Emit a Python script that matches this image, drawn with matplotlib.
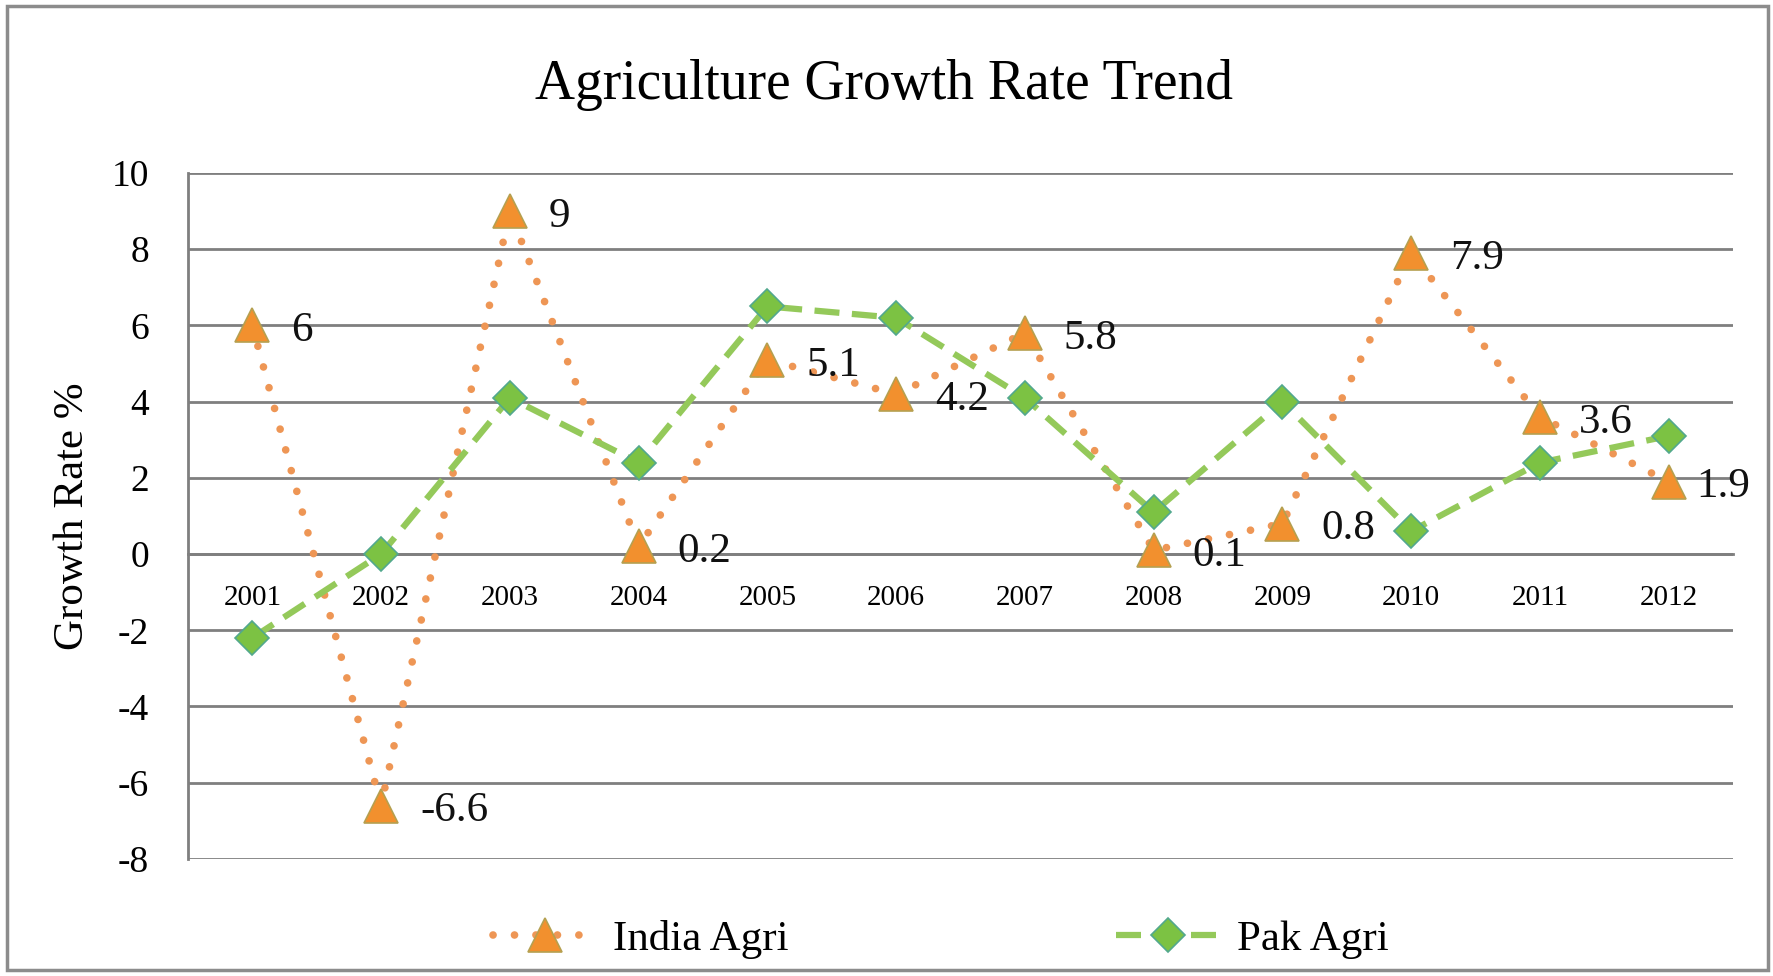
import matplotlib.pyplot as plt
from matplotlib.patches import Rectangle

years = ['2001', '2002', '2003', '2004', '2005', '2006',
         '2007', '2008', '2009', '2010', '2011', '2012']
india_agri = [6, -6.6, 9, 0.2, 5.1, 4.2, 5.8, 0.1, 0.8, 7.9, 3.6, 1.9]
pak_agri = [-2.2, 0.0, 4.1, 2.4, 6.5, 6.2, 4.1, 1.1, 4.0, 0.6, 2.4, 3.1]
y_ticks = [-8, -6, -4, -2, 0, 2, 4, 6, 8, 10]

plt.rcParams['font.family'] = ['Liberation Serif', 'DejaVu Serif']
plt.rcParams['axes.unicode_minus'] = False

fig = plt.figure(figsize=(17.73, 9.76), dpi=100)
ax = fig.add_axes([0.106, 0.12, 0.8715, 0.7027])

x = list(range(len(years)))

# India: dotted orange line with triangles
ax.plot(x, india_agri, linestyle=(0, (0.01, 2.8)), dash_capstyle='round',
        color='#EE9655', linewidth=5.5, marker='^', markersize=24,
        markerfacecolor='#F2902E', markeredgecolor='#B5A050',
        markeredgewidth=1.2, label='India Agri', zorder=3)

# Pakistan: dashed green line with diamonds
ax.plot(x, pak_agri, linestyle=(0, (4, 2)), color='#94C95A',
        linewidth=4.5, marker='D', markersize=17,
        markerfacecolor='#7CC243', markeredgecolor='#52A88E',
        markeredgewidth=1.2, label='Pak Agri', zorder=4)

# value labels to the right of each India point
for i, v in enumerate(india_agri):
    dx = 20 if i == len(years) - 1 else 28
    ax.annotate(f'{v:g}', (i, v), xytext=(dx, -4), textcoords='offset points',
                ha='left', va='center', fontsize=31, color='#111111', zorder=5)

ax.set_xlim(-0.5, len(years) - 0.5)
ax.set_ylim(-8, 10)
ax.set_yticks(y_ticks)
ax.set_xticks(x)
ax.set_xticklabels(years)
ax.grid(axis='y', color='#7F7F7F', linewidth=2)
ax.set_axisbelow(True)

for side in ['top', 'right']:
    ax.spines[side].set_visible(False)
ax.spines['left'].set_color('#7F7F7F')
ax.spines['left'].set_linewidth(2)
ax.spines['bottom'].set_position(('data', 0))
ax.spines['bottom'].set_color('#7F7F7F')
ax.spines['bottom'].set_linewidth(2)

ax.tick_params(axis='y', length=0, pad=28, labelsize=27)
ax.tick_params(axis='x', length=0, pad=22, labelsize=21)

ax.set_ylabel('Growth Rate %', fontsize=31, labelpad=14)
fig.text(0.4985, 0.913, 'Agriculture Growth Rate Trend', ha='center',
         va='center', fontsize=40)

fig.legend(loc='center', bbox_to_anchor=(0.5306, 0.037), ncol=2, frameon=False,
           fontsize=31, columnspacing=7.6, handlelength=2.4, handletextpad=0.4)

# outer chart frame
fig.patches.append(Rectangle((0.004, 0.006), 0.993, 0.988,
                             transform=fig.transFigure, fill=False,
                             edgecolor='#8C8C8C', linewidth=2.5))

fig.savefig('out.png', dpi=100)
